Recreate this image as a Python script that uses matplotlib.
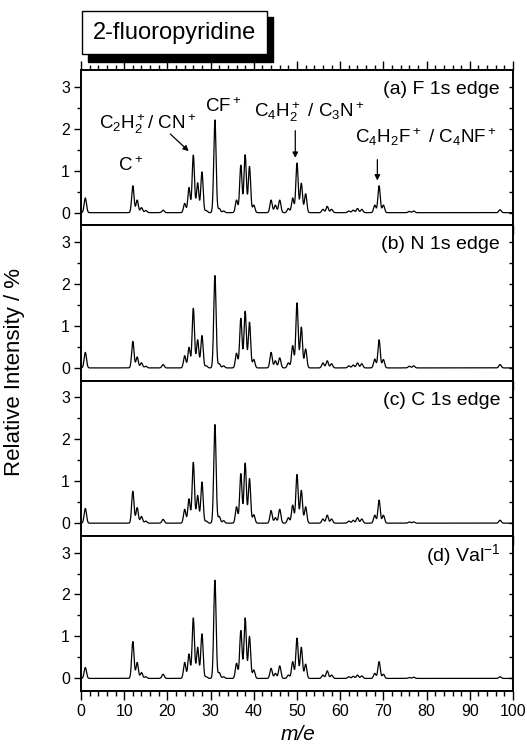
import numpy as np
import matplotlib
matplotlib.use("Agg")
import matplotlib.pyplot as plt
from matplotlib.patches import Rectangle
from matplotlib.ticker import MultipleLocator

plt.rcParams['font.family'] = ['Liberation Sans', 'DejaVu Sans']
plt.rcParams['mathtext.default'] = 'regular'

# peak positions (m/e) and relative intensities (%)
masses = [1, 12, 13, 14, 15, 19, 24, 25, 26, 27, 28, 29, 31, 32, 33, 36, 37, 38, 39, 40,
          44, 45, 46, 48, 49, 50, 51, 52, 56, 57, 58, 62, 63, 64, 65, 68, 69, 70, 76, 77, 97]

int_f1s = [0.35, 0.64, 0.30, 0.12, 0.05, 0.06, 0.22, 0.60, 1.37, 0.71, 0.97, 0.05, 2.21, 0.10, 0.04,
           0.30, 1.13, 1.38, 1.10, 0.18, 0.30, 0.18, 0.30, 0.10, 0.35, 1.18, 0.70, 0.45, 0.08, 0.15,
           0.08, 0.04, 0.06, 0.10, 0.08, 0.18, 0.64, 0.18, 0.03, 0.04, 0.07]
int_n1s = [0.37, 0.63, 0.26, 0.12, 0.04, 0.08, 0.29, 0.49, 1.42, 0.67, 0.77, 0.05, 2.20, 0.10, 0.05,
           0.35, 1.18, 1.35, 1.09, 0.20, 0.37, 0.17, 0.24, 0.12, 0.53, 1.55, 0.97, 0.45, 0.12, 0.17,
           0.10, 0.05, 0.07, 0.12, 0.10, 0.21, 0.67, 0.20, 0.04, 0.05, 0.08]
int_c1s = [0.35, 0.76, 0.37, 0.16, 0.05, 0.09, 0.33, 0.58, 1.45, 0.66, 0.98, 0.05, 2.35, 0.16, 0.06,
           0.39, 1.18, 1.43, 1.06, 0.20, 0.30, 0.13, 0.33, 0.13, 0.43, 1.16, 0.78, 0.39, 0.10, 0.19,
           0.10, 0.05, 0.07, 0.13, 0.10, 0.19, 0.55, 0.19, 0.03, 0.03, 0.07]
int_val = [0.26, 0.88, 0.38, 0.14, 0.04, 0.10, 0.38, 0.58, 1.44, 0.74, 1.06, 0.04, 2.34, 0.14, 0.04,
           0.36, 1.14, 1.44, 1.00, 0.20, 0.24, 0.12, 0.30, 0.08, 0.40, 0.96, 0.74, 0.34, 0.08, 0.18,
           0.08, 0.04, 0.05, 0.08, 0.06, 0.12, 0.40, 0.10, 0.02, 0.03, 0.04]

panel_labels = ['(a) F 1s edge', '(b) N 1s edge', '(c) C 1s edge', '(d) Val$^{-1}$']
spectra = [int_f1s, int_n1s, int_c1s, int_val]


def spectrum(x, centers, heights, width=0.27):
    y = np.zeros_like(x)
    for c, h in zip(centers, heights):
        y += h * np.exp(-0.5 * ((x - c) / width) ** 2)
    return y


fig = plt.figure(figsize=(5.27, 7.53), dpi=100)

left, width = 81 / 527, 432 / 527
top_px, panel_px = 70, 155.25
x = np.linspace(0, 100, 8001)

axes = []
for i, (vals, lab) in enumerate(zip(spectra, panel_labels)):
    bottom = 1 - (top_px + (i + 1) * panel_px) / 753
    ax = fig.add_axes([left, bottom, width, panel_px / 753])
    ax.plot(x, spectrum(x, masses, vals), color='black', lw=0.9)
    ax.set_xlim(0, 100)
    ax.set_ylim(-0.3, 3.4)
    ax.xaxis.set_major_locator(MultipleLocator(10))
    ax.xaxis.set_minor_locator(MultipleLocator(2))
    ax.yaxis.set_major_locator(MultipleLocator(1))
    ax.yaxis.set_minor_locator(MultipleLocator(0.5))
    ax.tick_params(axis='x', which='major', direction='out', length=6.5, width=1.0,
                   labelsize=11.5, top=(i == 0), pad=3)
    ax.tick_params(axis='x', which='minor', direction='out', length=3.5, width=1.0, top=(i == 0))
    ax.tick_params(axis='y', which='major', direction='out', length=5, width=1.0, labelsize=11.5,
                   right=False, pad=3)
    ax.tick_params(axis='y', which='minor', direction='out', length=3, width=1.0, right=False)
    ax.tick_params(axis='x', which='both', labelbottom=(i == 3))
    # inward ticks on the right edge
    ax2 = ax.twinx()
    ax2.set_ylim(ax.get_ylim())
    ax2.yaxis.set_major_locator(MultipleLocator(0.5))
    ax2.tick_params(axis='y', direction='in', length=3, width=1.0, labelright=False)
    for a in (ax, ax2):
        for s in a.spines.values():
            s.set_linewidth(1.2)
    ax.text(97, 2.93, lab, ha='right', va='center', fontsize=14)
    axes.append(ax)

axa = axes[0]
ann_fs = 13.5
axa.text(11.6, 1.12, 'C$^+$', ha='center', va='center', fontsize=ann_fs)
axa.text(15.6, 2.12, 'C$_2$H$_2^+$/ CN$^+$', ha='center', va='center', fontsize=ann_fs)
axa.annotate('', xy=(25.4, 1.42), xytext=(20.2, 1.92),
             arrowprops=dict(arrowstyle='-|>', color='black', lw=0.9, mutation_scale=8))
axa.text(33.0, 2.52, 'CF$^+$', ha='center', va='center', fontsize=ann_fs)
axa.text(52.8, 2.40, 'C$_4$H$_2^+$ / C$_3$N$^+$', ha='center', va='center', fontsize=ann_fs)
axa.annotate('', xy=(49.6, 1.24), xytext=(49.6, 2.02),
             arrowprops=dict(arrowstyle='-|>', color='black', lw=0.9, mutation_scale=8))
axa.text(79.8, 1.80, 'C$_4$H$_2$F$^+$ / C$_4$NF$^+$', ha='center', va='center', fontsize=ann_fs)
axa.annotate('', xy=(68.6, 0.70), xytext=(68.6, 1.33),
             arrowprops=dict(arrowstyle='-|>', color='black', lw=0.9, mutation_scale=8))

fig.text(15 / 527, 1 - 372 / 753, 'Relative Intensity / %', rotation=90,
         ha='center', va='center', fontsize=16)
fig.text(298 / 527, 1 - 735 / 753, 'm/e', style='italic', ha='center', va='center', fontsize=15)

# title box with drop shadow
fig.patches.append(Rectangle((88 / 527, 1 - 62 / 753), 185 / 527, 45 / 753,
                             transform=fig.transFigure, facecolor='black', edgecolor='black',
                             zorder=1))
fig.patches.append(Rectangle((82 / 527, 1 - 54 / 753), 185 / 527, 43 / 753,
                             transform=fig.transFigure, facecolor='white', edgecolor='black',
                             lw=1.0, zorder=2))
fig.text(174.5 / 527, 1 - 33 / 753, '2-fluoropyridine', ha='center', va='center',
         fontsize=17, zorder=3)

fig.savefig('out.png', dpi=100)
